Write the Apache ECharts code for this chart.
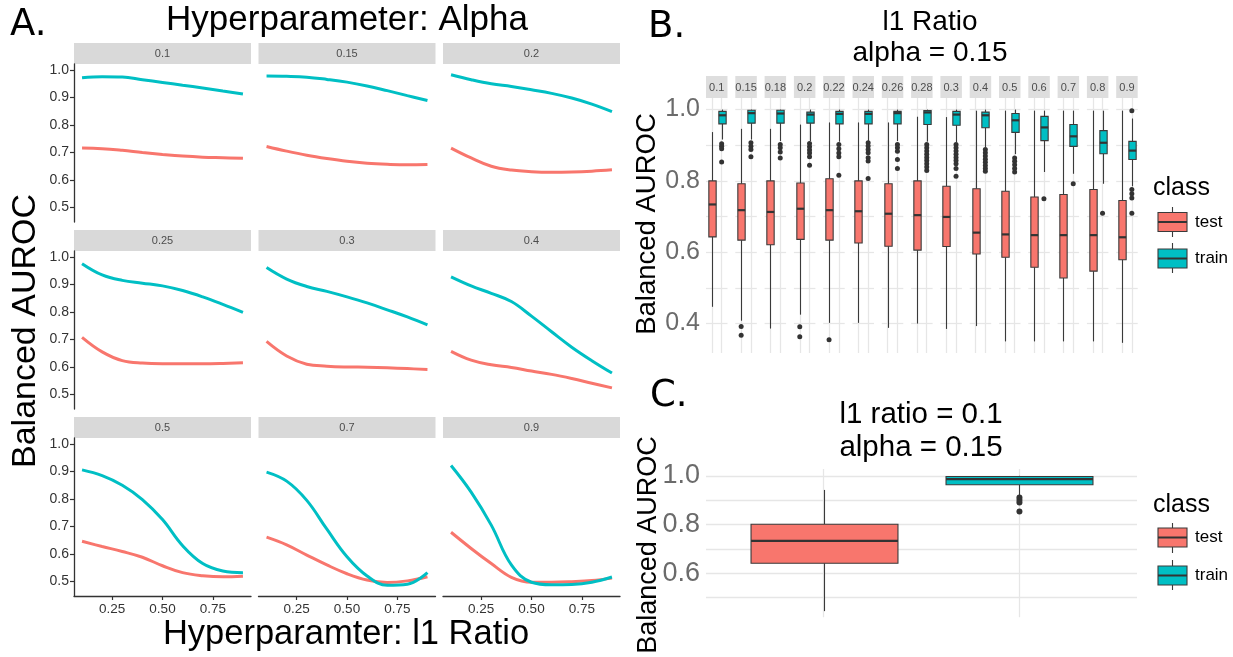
<!DOCTYPE html>
<html><head><meta charset="utf-8">
<script src="https://cdn.jsdelivr.net/npm/echarts@6/dist/echarts.min.js"></script>
<style>html,body{margin:0;padding:0;background:#fff}#chart{width:1233px;height:657px}</style>
</head><body><div id="chart"></div>
<script>
// ================= DATA =================
// Panel A: smoothed balanced AUROC vs l1 ratio, one facet per alpha
const alphaLabels = ['0.1','0.15','0.2','0.25','0.3','0.4','0.5','0.7','0.9'];
const l1Grid = [0.1,0.2,0.3,0.4,0.5,0.6,0.7,0.8,0.9];
const testCurves = [
  [0.716,0.714,0.708,0.700,0.693,0.687,0.683,0.681,0.679],
  [0.722,0.705,0.690,0.678,0.668,0.661,0.657,0.655,0.656],
  [0.716,0.680,0.650,0.636,0.630,0.628,0.629,0.632,0.637],
  [0.708,0.655,0.623,0.614,0.612,0.612,0.612,0.613,0.615],
  [0.693,0.640,0.610,0.603,0.600,0.599,0.597,0.594,0.591],
  [0.657,0.625,0.608,0.598,0.585,0.573,0.558,0.541,0.524],
  [0.646,0.627,0.609,0.588,0.557,0.532,0.521,0.517,0.519],
  [0.661,0.633,0.596,0.560,0.528,0.505,0.496,0.502,0.517],
  [0.679,0.620,0.565,0.515,0.497,0.497,0.499,0.503,0.512]
];
const trainCurves = [
  [0.972,0.976,0.975,0.965,0.955,0.945,0.935,0.924,0.913],
  [0.978,0.977,0.974,0.966,0.956,0.942,0.925,0.907,0.889],
  [0.983,0.965,0.950,0.940,0.928,0.915,0.898,0.876,0.849],
  [0.976,0.935,0.915,0.905,0.895,0.878,0.855,0.828,0.799],
  [0.962,0.920,0.893,0.875,0.855,0.833,0.808,0.782,0.753],
  [0.928,0.895,0.868,0.838,0.785,0.728,0.672,0.623,0.578],
  [0.906,0.885,0.850,0.798,0.725,0.630,0.565,0.538,0.532],
  [0.898,0.865,0.795,0.690,0.590,0.520,0.486,0.490,0.532],
  [0.922,0.825,0.705,0.560,0.497,0.488,0.489,0.497,0.516]
];
const aXTicks = [0.25,0.5,0.75];
const aYTicks = [0.5,0.6,0.7,0.8,0.9,1.0];

// Panel B: boxplots per l1 ratio (alpha = 0.15); [min, Q1, median, Q3, max]
const classNames = ['test','train'];
const l1RatioLabels = ['0.1','0.15','0.18','0.2','0.22','0.24','0.26','0.28','0.3','0.4','0.5','0.6','0.7','0.8','0.9'];
const testBoxes = [
  [0.447,0.643,0.734,0.800,0.937],
  [0.408,0.634,0.718,0.792,0.946],
  [0.386,0.621,0.713,0.800,0.946],
  [0.425,0.636,0.722,0.794,0.958],
  [0.402,0.634,0.718,0.806,0.964],
  [0.402,0.626,0.715,0.800,0.964],
  [0.388,0.617,0.708,0.792,0.964],
  [0.400,0.606,0.704,0.800,0.980],
  [0.385,0.616,0.699,0.785,0.979],
  [0.393,0.595,0.655,0.778,0.997],
  [0.350,0.586,0.650,0.771,0.997],
  [0.350,0.558,0.648,0.755,0.997],
  [0.350,0.528,0.648,0.762,0.997],
  [0.350,0.547,0.648,0.776,0.997],
  [0.346,0.579,0.642,0.745,0.997]
];
const trainBoxes = [
  [0.916,0.960,0.984,0.995,1.000],
  [0.916,0.962,0.990,0.998,1.000],
  [0.912,0.962,0.989,0.998,1.000],
  [0.912,0.962,0.986,0.993,1.000],
  [0.910,0.960,0.988,0.995,1.000],
  [0.912,0.960,0.988,0.995,1.000],
  [0.912,0.960,0.990,0.995,1.000],
  [0.910,0.958,0.992,0.997,1.000],
  [0.908,0.956,0.986,0.995,1.000],
  [0.895,0.949,0.984,0.993,1.000],
  [0.875,0.936,0.970,0.989,1.000],
  [0.825,0.913,0.950,0.981,0.997],
  [0.820,0.897,0.925,0.958,0.997],
  [0.792,0.876,0.907,0.941,0.997],
  [0.785,0.860,0.885,0.911,0.975]
];
const testOutliers = [[],[0.392,0.367],[],[0.391,0.363],[0.355],[],[],[],[],[],[],[],[],[],[]];
const trainOutliers = [
  [0.904,0.897,0.890,0.853],
  [0.907,0.897,0.888,0.868],
  [0.902,0.893,0.881,0.864],
  [0.905,0.896,0.887,0.878,0.868,0.844],
  [0.902,0.890,0.878,0.868,0.816],
  [0.907,0.898,0.888,0.879,0.865,0.856,0.807],
  [0.902,0.893,0.883,0.860,0.835],
  [0.902,0.893,0.884,0.875,0.866,0.857,0.848,0.839,0.829],
  [0.902,0.893,0.884,0.875,0.866,0.857,0.848,0.835,0.813],
  [0.888,0.879,0.870,0.861,0.852,0.843,0.835,0.827],
  [0.864,0.855,0.845,0.835,0.825],
  [0.750],
  [0.792],
  [0.709],
  [0.997,0.776,0.764,0.752,0.709]
];
const bYGrid = [0.4,0.5,0.6,0.7,0.8,0.9,1.0];
const bYLabels = [0.4,0.6,0.8,1.0];

// Panel C: l1 ratio = 0.1, alpha = 0.15
const cTestBox = [0.444,0.641,0.733,0.801,0.942];
const cTrainBox = [0.920,0.963,0.986,0.997,1.000];
const cTestOutliers = [];
const cTrainOutliers = [0.911,0.901,0.890,0.853];
const cYGrid = [0.5,0.6,0.7,0.8,0.9,1.0];
const cYLabels = [0.6,0.8,1.0];

// ================= STYLE / LAYOUT =================
const FONT = '"Liberation Sans", Arial, Helvetica, sans-serif';
const LETTER_FONT = '"DejaVu Sans", sans-serif';
const COL = {test:'#F8766D', train:'#00BFC4'};
const GRIDLINE = '#e6e6e6';
const INK = '#333333';

const grid = [], xAxis = [], yAxis = [], series = [], graphic = [];

function txt(x, y, text, size, opts) {
  opts = opts || {};
  return {type:'text', x:x, y:y, rotation:opts.rotation || 0, silent:true, z:10,
    style:{text:text, font:(opts.weight||'normal')+' '+size+'px '+(opts.family||FONT), fill:opts.color||'#000',
      align:opts.align||'center', verticalAlign:'middle'}};
}

// ---------- Panel A ----------
const A = {left:[74,258.5,443], top:[64,251,438], w:177, h:158, strip:21,
  yMin:0.447, yMax:1.022, xMin:0.06, xMax:0.94};
alphaLabels.forEach(function (lab, i) {
  const r = Math.floor(i/3), c = i%3, gi = grid.length;
  grid.push({left:A.left[c], top:A.top[r], width:A.w, height:A.h});
  xAxis.push({type:'value', gridIndex:gi, min:A.xMin, max:A.xMax, show:r===2,
    axisLine:{show:true, onZero:false, lineStyle:{color:INK, width:1.3}},
    axisTick:{show:true, customValues:aXTicks, length:4, lineStyle:{color:INK, width:1.2}},
    axisLabel:{show:true, customValues:aXTicks, formatter:function(v){return v.toFixed(2);}, fontSize:13.5, color:'#333', fontFamily:FONT, margin:6},
    splitLine:{show:false}});
  yAxis.push({type:'value', gridIndex:gi, min:A.yMin, max:A.yMax, show:c===0,
    axisLine:{show:true, onZero:false, lineStyle:{color:INK, width:1.3}},
    axisTick:{show:true, customValues:aYTicks, length:4, lineStyle:{color:INK, width:1.2}},
    axisLabel:{show:true, customValues:aYTicks, formatter:function(v){return v.toFixed(1);}, fontSize:14, color:'#333', fontFamily:FONT, margin:5},
    splitLine:{show:false}});
  [['test', testCurves], ['train', trainCurves]].forEach(function (p) {
    series.push({type:'line', name:p[0], xAxisIndex:gi, yAxisIndex:gi, silent:true,
      data:l1Grid.map(function (x, k) { return [x, p[1][i][k]]; }),
      smooth:0.4, showSymbol:false, lineStyle:{color:COL[p[0]], width:3}});
  });
  graphic.push({type:'rect', silent:true, shape:{x:A.left[c], y:A.top[r]-A.strip, width:A.w, height:A.strip}, style:{fill:'#D9D9D9'}});
  graphic.push(txt(A.left[c]+A.w/2, A.top[r]-A.strip/2+0.5, lab, 11, {color:'#4d4d4d'}));
});
graphic.push(txt(10, 25, 'A.', 37, {align:'left', family:LETTER_FONT}));
graphic.push(txt(347, 20, 'Hyperparameter: Alpha', 35));
graphic.push(txt(346, 634, 'Hyperparamter: l1 Ratio', 34.5));
graphic.push(txt(26, 331, 'Balanced AUROC', 34, {rotation:Math.PI/2}));

// ---------- box helpers ----------
const BOX_W = 0.75;
function boxRenderer(color) {
  return function (params, api) {
    const x = api.value(0);
    const lo = api.coord([x, api.value(1)]);
    const q1 = api.coord([x, api.value(2)]);
    const md = api.coord([x, api.value(3)]);
    const q3 = api.coord([x, api.value(4)]);
    const hi = api.coord([x, api.value(5)]);
    const w = api.size([BOX_W, 0])[0];
    const cx = Math.round(lo[0]) + 0.5;
    const ink = {stroke:'#3a3a3a', lineWidth:1.1};
    return {type:'group', children:[
      {type:'line', shape:{x1:cx, y1:hi[1], x2:cx, y2:q3[1]}, style:ink},
      {type:'line', shape:{x1:cx, y1:q1[1], x2:cx, y2:lo[1]}, style:ink},
      {type:'rect', shape:{x:cx-w/2, y:q3[1], width:w, height:q1[1]-q3[1]}, style:{fill:color, stroke:'#3a3a3a', lineWidth:1.1}},
      {type:'line', shape:{x1:cx-w/2, y1:md[1], x2:cx+w/2, y2:md[1]}, style:{stroke:'#333', lineWidth:2.2}}
    ]};
  };
}
function addBoxPanel(gi, boxes, outliers, dotSize) {
  classNames.forEach(function (cls, k) {
    const pos = k + 1;
    series.push({type:'custom', name:cls, xAxisIndex:gi, yAxisIndex:gi, silent:true, z:3,
      renderItem:boxRenderer(COL[cls]),
      encode:{x:0, y:[1,2,3,4,5]},
      data:[[pos].concat(boxes[k])]});
    series.push({type:'scatter', name:cls+' outliers', xAxisIndex:gi, yAxisIndex:gi, silent:true, z:4,
      symbolSize:dotSize, itemStyle:{color:'#333', opacity:1},
      data:outliers[k].map(function (v) { return [pos, v]; })});
  });
}
function boxAxes(gi, yMin, yMax, gridVals, labelVals, showLabels, labelSize) {
  xAxis.push({type:'value', gridIndex:gi, min:0.4, max:2.6,
    axisLine:{show:false}, axisTick:{show:false, customValues:[1,2]}, axisLabel:{show:false, customValues:[1,2]},
    splitLine:{show:true, lineStyle:{color:GRIDLINE, width:1.3}}});
  yAxis.push({type:'value', gridIndex:gi, min:yMin, max:yMax,
    axisLine:{show:false}, axisTick:{show:false, customValues:gridVals},
    axisLabel:{show:showLabels, customValues:labelVals, formatter:function(v){return v.toFixed(1);}, fontSize:labelSize, color:'#6b6b6b', fontFamily:FONT, margin:6},
    splitLine:{show:true, lineStyle:{color:GRIDLINE, width:1.3}}});
}

// ---------- Panel B ----------
const B = {left0:706, pitch:29.3, w:21.5, top:98, h:255, strip:22, yMin:0.3175, yMax:1.0325};
l1RatioLabels.forEach(function (lab, j) {
  const gi = grid.length, left = B.left0 + j*B.pitch;
  grid.push({left:left, top:B.top, width:B.w, height:B.h});
  boxAxes(gi, B.yMin, B.yMax, bYGrid, bYLabels, j===0, 25);
  addBoxPanel(gi, [testBoxes[j], trainBoxes[j]], [testOutliers[j], trainOutliers[j]], 5);
  graphic.push({type:'rect', silent:true, shape:{x:left, y:B.top-B.strip, width:B.w, height:B.strip}, style:{fill:'#DEDEDE'}});
  graphic.push(txt(left+B.w/2, B.top-B.strip/2+0.5, lab, 11, {color:'#4d4d4d'}));
});
graphic.push(txt(648, 27, 'B.', 37, {align:'left', family:LETTER_FONT}));
graphic.push(txt(930, 22, 'l1 Ratio', 28));
graphic.push(txt(930, 53, 'alpha = 0.15', 28));
graphic.push(txt(647, 224, 'Balanced AUROC', 27.5, {rotation:Math.PI/2}));

// ---------- Panel C ----------
const C = {left:706, top:469, w:431, h:148.2, yMin:0.419, yMax:1.028};
(function () {
  const gi = grid.length;
  grid.push({left:C.left, top:C.top, width:C.w, height:C.h});
  boxAxes(gi, C.yMin, C.yMax, cYGrid, cYLabels, true, 27);
  addBoxPanel(gi, [cTestBox, cTrainBox], [cTestOutliers, cTrainOutliers], 6);
})();
graphic.push(txt(650, 396, 'C.', 37, {align:'left', family:LETTER_FONT}));
graphic.push(txt(921, 415, 'l1 ratio = 0.1', 29.5));
graphic.push(txt(921, 448, 'alpha = 0.15', 29.5));
graphic.push(txt(649, 545, 'Balanced AUROC', 27, {rotation:Math.PI/2}));

// ---------- legends ----------
function legendKey(x, yTop, h, wTop, wBot, color, label) {
  const cx = x + 14.5, mid = yTop + h/2;
  graphic.push({type:'line', silent:true, shape:{x1:cx, y1:wTop, x2:cx, y2:wBot}, style:{stroke:'#3a3a3a', lineWidth:1.1}});
  graphic.push({type:'rect', silent:true, shape:{x:x, y:yTop, width:29, height:h}, style:{fill:color, stroke:'#3a3a3a', lineWidth:1.1}});
  graphic.push({type:'line', silent:true, shape:{x1:x, y1:mid, x2:x+29, y2:mid}, style:{stroke:'#333', lineWidth:2}});
  graphic.push(txt(x+37, mid, label, 17, {align:'left'}));
}
graphic.push(txt(1153, 188, 'class', 25, {align:'left'}));
legendKey(1158, 212.5, 19, 207, 237, COL.test, classNames[0]);
legendKey(1158, 249, 19, 243, 273, COL.train, classNames[1]);
graphic.push(txt(1153, 505, 'class', 25, {align:'left'}));
legendKey(1158, 528, 19, 523, 553, COL.test, classNames[0]);
legendKey(1158, 566, 19, 560, 590, COL.train, classNames[1]);

const chart = echarts.init(document.getElementById('chart'), null, {renderer:'canvas'});
chart.setOption({animation:false, backgroundColor:'#fff', grid:grid, xAxis:xAxis, yAxis:yAxis, series:series, graphic:graphic});
</script></body></html>
